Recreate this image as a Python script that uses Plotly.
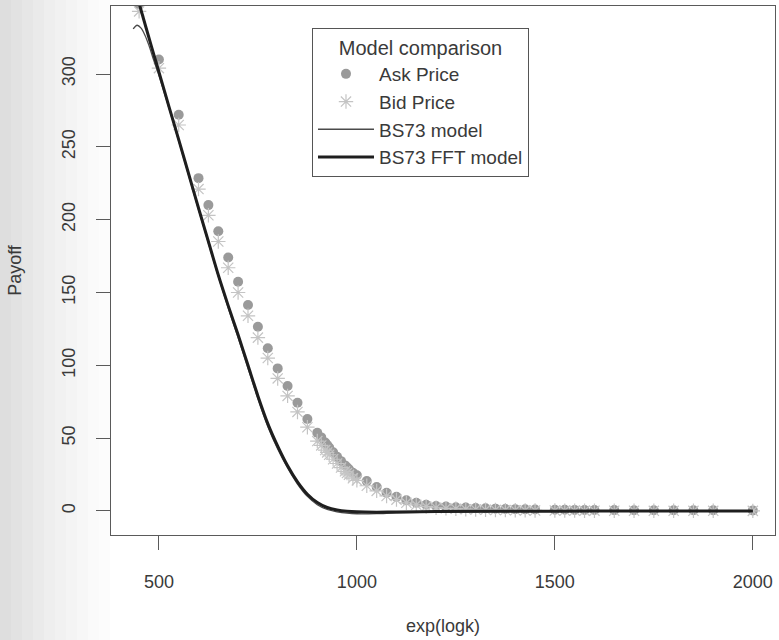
import plotly.graph_objects as go

# ---- data ----
strikes = [450, 500, 550, 600, 625, 650, 675, 700, 725, 750, 775, 800, 825, 850, 875,
           900, 910, 920, 925, 930, 940, 950, 960, 970, 975, 980, 990, 1000,
           1025, 1050, 1075, 1100, 1125, 1150, 1175, 1200, 1225, 1250, 1275, 1300,
           1325, 1350, 1375, 1400, 1425, 1450, 1500, 1525, 1550, 1575, 1600,
           1650, 1700, 1750, 1800, 1850, 1900, 2000]
ask_price = [348, 310, 272, 228.5, 210, 192, 174, 157.4, 141.4, 126.5, 111.7, 97.9, 85.8, 74.3, 63.1,
             53.7, 50.5, 47, 45.3, 43.6, 40.3, 37.2, 34.2, 31.3, 30, 28.7, 26.2, 24.5,
             20.5, 16.5, 12.5, 9.8, 7.3, 5.7, 4.3, 3.4, 3.0, 2.6, 2.3, 2.0,
             1.8, 1.6, 1.4, 1.25, 1.1, 1.0, 0.85, 0.8, 0.75, 0.7, 0.65,
             0.6, 0.55, 0.5, 0.5, 0.45, 0.45, 0.4]
bid_price = [343, 304, 265, 221, 203, 185, 167, 150, 134, 119, 105, 91, 79, 68, 57.5,
             48, 45, 41.8, 40.2, 38.6, 35.5, 32.6, 29.8, 27.2, 26, 24.8, 22.5, 21,
             17.3, 13.8, 10.3, 7.8, 5.6, 4.2, 3.0, 2.2, 1.8, 1.5, 1.2, 1.0,
             0.8, 0.7, 0.6, 0.5, 0.4, 0.35, 0.3, 0.25, 0.25, 0.2, 0.2,
             0.15, 0.15, 0.1, 0.1, 0.1, 0.1, 0.05]

bs73_k = [435, 445, 455, 465, 475, 485, 500, 525, 550, 575, 600, 625, 650, 675, 700,
          725, 750, 775, 800, 825, 850, 875, 900, 925, 950, 975, 1000, 1050, 1100,
          1200, 1400, 1600, 2000]
bs73_val = [331, 333.5, 331.5, 326.5, 319.5, 311, 299, 277, 254, 230.5, 207, 184, 161, 139.5, 119,
            98, 77, 58, 42.5, 29.5, 18.5, 10, 4.3, 1.0, -0.6, -1.5, -1.9, -1.8, -1.3,
            -0.8, -0.4, -0.2, -0.1]

fft_k = [440, 460, 480, 500, 525, 550, 575, 600, 625, 650, 675, 700, 725, 750, 775,
         800, 825, 850, 875, 900, 925, 950, 975, 1000, 1050, 1100, 1200, 1400, 1600, 2000]
fft_val = [358, 339, 320, 301.5, 278, 255, 231.5, 208, 185, 162, 141, 121, 100, 79, 60,
           44.5, 31, 20, 11.5, 5.8, 2.4, 0.7, -0.2, -0.6, -0.8, -0.7, -0.4, -0.2, -0.1, 0]

x_ticks = [500, 1000, 1500, 2000]
y_ticks = [0, 50, 100, 150, 200, 250, 300]

FONT = "Liberation Sans, Arial, Helvetica, sans-serif"
TXT = "#3a3a3a"
AX = "#5a5a5a"

fig = go.Figure()

fig.add_trace(go.Scatter(
    x=strikes, y=ask_price, mode="markers", name="Ask Price",
    marker=dict(symbol="circle", size=10, color="#9a9a9a", line=dict(width=0)),
))
fig.add_trace(go.Scatter(
    x=strikes, y=bid_price, mode="markers", name="Bid Price",
    marker=dict(symbol="asterisk-open", size=12, color="#c4c4c4",
                line=dict(width=1.2, color="#c4c4c4")),
))
fig.add_trace(go.Scatter(
    x=bs73_k, y=bs73_val, mode="lines", name="BS73 model",
    line=dict(color="#4a4a4a", width=1.3, shape="spline", smoothing=0.8),
))
fig.add_trace(go.Scatter(
    x=fft_k, y=fft_val, mode="lines", name="BS73 FFT model",
    line=dict(color="#1e1e1e", width=3, shape="spline", smoothing=0.8),
))

# faint scan shading on the left edge of the page
shades = ["#dedede", "#e2e2e2", "#e6e6e6", "#eaeaea", "#eeeeee", "#f1f1f1",
          "#f4f4f4", "#f7f7f7", "#fafafa", "#fcfcfc"]
pw = 664.0
for i, c in enumerate(shades):
    x0 = (i * 11 - 111) / pw
    x1 = ((i + 1) * 11 - 111) / pw
    fig.add_shape(type="rect", xref="paper", yref="paper", x0=x0, x1=x1,
                  y0=-105 / 529.0, y1=1 + 6 / 529.0, fillcolor=c,
                  line=dict(width=0), layer="below")

fig.update_layout(
    width=779, height=640,
    margin=dict(l=111, r=4, t=6, b=105),
    paper_bgcolor="white", plot_bgcolor="white",
    font=dict(family=FONT, size=18, color=TXT),
    showlegend=True,
    legend=dict(
        x=0.3027, y=0.9584, xanchor="left", yanchor="top",
        bordercolor="#555555", borderwidth=1, bgcolor="white",
        title=dict(text="Model comparison", side="top center",
                   font=dict(family=FONT, size=20, color=TXT)),
        font=dict(family=FONT, size=19, color=TXT),
        itemwidth=56, tracegroupgap=0,
    ),
    xaxis=dict(
        range=[379, 2056], tickmode="array", tickvals=x_ticks,
        ticktext=[str(v) for v in x_ticks],
        showgrid=False, zeroline=False,
        showline=True, mirror=True, linecolor=AX, linewidth=1,
        ticks="outside", ticklen=14, tickcolor=AX, tickwidth=1,
        ticklabelstandoff=16,
        title=dict(text="exp(logk)", standoff=28, font=dict(size=18, color=TXT)),
    ),
    yaxis=dict(
        range=[-16.5, 346.7], tickmode="array", tickvals=y_ticks,
        ticktext=[str(v) for v in y_ticks], tickangle=-90,
        showgrid=False, zeroline=False,
        showline=True, mirror=True, linecolor=AX, linewidth=1,
        ticks="outside", ticklen=14, tickcolor=AX, tickwidth=1,
        ticklabelstandoff=14,
        title=dict(text="Payoff", standoff=32, font=dict(size=18, color=TXT)),
    ),
)

fig.write_html("out.html")
